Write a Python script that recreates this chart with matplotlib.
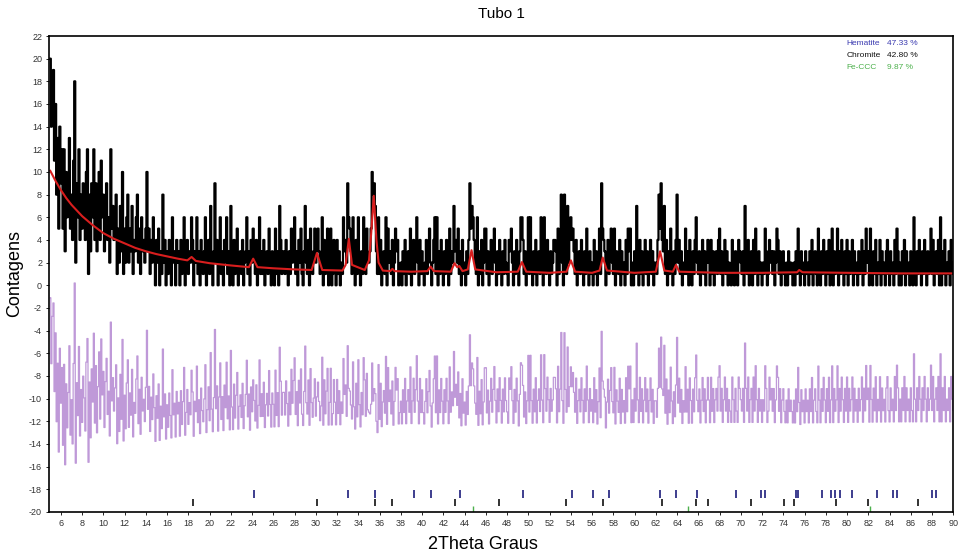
import matplotlib.pyplot as plt
import numpy as np


# Observed counts, one string per degree (5.0 .. 89.9, step 0.1), base-36 digits
START_2THETA = 5.0
STEP_2THETA = 0.1
OBS_ROWS = [
    "keijbg8d5e",  # 5
    "9c5c3a69d5",  # 6
    "84bi296c48",  # 7
    "5974ac1839",  # 8
    "6c4937a4b6",  # 9
    "8379462c57",  # 10
    "46815273a1",  # 11
    "5268253714",  # 12
    "3682516342",  # 13
    "5a35142630",  # 14
    "4250318240",  # 15
    "3142062304",  # 16
    "2304136024",  # 17
    "1326403261",  # 18
    "3042136024",  # 19
    "1720392403",  # 20
    "6130426130",  # 21
    "7204135023",  # 22
    "1402361304",  # 23
    "2531402613",  # 24
    "1402315203",  # 25
    "2051307413",  # 26
    "3142031524",  # 27
    "6130425103",  # 28
    "7214052135",  # 29
    "2453126041",  # 30
    "3502501420",  # 31
    "4130216342",  # 32
    "9653162041",  # 33
    "6203164152",  # 34
    "235a897316",  # 35
    "1402316052",  # 36
    "3140253401",  # 37
    "2031402315",  # 38
    "0241362041",  # 39
    "3102413520",  # 40
    "2461603142",  # 41
    "0314205132",  # 42
    "7342513041",  # 43
    "2031495764",  # 44
    "2160314025",  # 45
    "5130241352",  # 46
    "0314203142",  # 47
    "1043520314",  # 48
    "2036641302",  # 49
    "6162031402",  # 50
    "3162063142",  # 51
    "0312443051",  # 52
    "3820831724",  # 53
    "6453140231",  # 54
    "4203152031",  # 55
    "2041302519",  # 56
    "5430241352",  # 57
    "1503214031",  # 58
    "2041535020",  # 59
    "3172041302",  # 60
    "4130241302",  # 61
    "2148594371",  # 62
    "4031520314",  # 63
    "8241302151",  # 64
    "3042031462",  # 65
    "1302413024",  # 66
    "2041302314",  # 67
    "5130241302",  # 68
    "1042031043",  # 69
    "2130731402",  # 70
    "3041520312",  # 71
    "0215301423",  # 72
    "1302541302",  # 73
    "3102031210",  # 74
    "2031520312",  # 75
    "0312031402",  # 76
    "3105203142",  # 77
    "0314025031",  # 78
    "2503142031",  # 79
    "4031240312",  # 80
    "0312403152",  # 81
    "3052031402",  # 82
    "1403120341",  # 83
    "0312041530",  # 84
    "2031403120",  # 85
    "3106203142",  # 86
    "0314203125",  # 87
    "1402314060",  # 88
    "3140213042",  # 89
    "1",           # 90
]

# Calculated profile (2theta, counts)
CALC_X = [5.0, 5.5, 6.0, 6.5, 7.0, 7.5, 8.0, 9.0, 10.0, 11.0, 12.0, 13.0, 14.0,
          15.0, 16.0, 17.0, 17.9, 18.3, 18.7, 20.0, 22.0, 23.7, 24.1, 24.5,
          26.0, 28.0, 29.6, 30.1, 30.6, 32.5, 32.8, 33.1, 33.4, 34.6, 35.0,
          35.2, 35.45, 35.7, 35.9, 36.3, 37.0, 37.2, 37.4, 39.0, 40.5, 40.8,
          41.1, 42.7, 43.05, 43.3, 43.5, 43.8, 44.3, 44.65, 45.0, 47.0, 49.0,
          49.4, 49.8, 52.0, 53.6, 54.0, 54.4, 56.0, 56.7, 57.0, 57.4, 60.0,
          62.0, 62.4, 62.8, 63.6, 63.9, 64.2, 68.0, 72.0, 75.3, 75.5, 75.8,
          80.0, 85.0, 90.0]
CALC_Y = [10.1, 9.2, 8.4, 7.7, 7.1, 6.6, 6.1, 5.3, 4.6, 4.1, 3.7, 3.3, 3.0,
          2.75, 2.55, 2.35, 2.2, 2.5, 2.15, 1.95, 1.75, 1.6, 2.35, 1.6,
          1.5, 1.4, 1.35, 2.85, 1.35, 1.3, 1.8, 4.1, 1.8, 1.35, 2.2,
          4.5, 7.9, 4.0, 2.0, 1.3, 1.25, 1.45, 1.25, 1.2, 1.25, 1.65,
          1.25, 1.2, 1.95, 1.6, 1.7, 1.25, 1.4, 3.1, 1.4, 1.15, 1.2,
          2.05, 1.2, 1.1, 1.2, 2.2, 1.2, 1.1, 1.3, 2.45, 1.3, 1.1,
          1.2, 3.0, 1.3, 1.2, 1.8, 1.2, 1.1, 1.1, 1.15, 1.35, 1.15,
          1.1, 1.05, 1.05]

DIFF_OFFSET = -11

# Bragg reflection positions per phase
HEMATITE_POS = [24.2, 33.07, 35.56, 39.24, 40.8, 43.54, 49.5, 54.1, 56.1, 57.56,
                62.4, 63.9, 65.9, 69.5, 71.9, 72.3, 75.2, 75.4, 77.6, 78.5,
                78.9, 79.3, 80.45, 82.85, 84.35, 84.7, 88.0, 88.4]
CHROMITE_POS = [18.43, 30.1, 35.56, 37.15, 43.13, 47.28, 53.5, 57.06, 62.6,
                65.8, 66.9, 70.95, 74.07, 75.0, 79.0, 81.98, 86.7]
FE_POS = [44.8, 65.0, 82.2]

PHASES = ["Hematite", "Chromite", "Fe-CCC"]
FRACTIONS = ["47.33 %", "42.80 %", "9.87 %"]
PHASE_COLORS = ["#3b3bb0", "#111111", "#4cb04c"]


obs = np.array([int(c, 36) for c in "".join(OBS_ROWS)], dtype=float)
two_theta = START_2THETA + STEP_2THETA * np.arange(len(obs))
diff = obs - np.interp(two_theta, CALC_X, CALC_Y) + DIFF_OFFSET

plt.rcParams['font.family'] = ['Liberation Sans', 'DejaVu Sans']
plt.rcParams['axes.unicode_minus'] = False

fig = plt.figure(figsize=(9.61, 5.54), dpi=100)
ax = fig.add_axes([0.051, 0.076, 0.941, 0.859])

ax.step(two_theta, diff, where='mid', color='#b88ed4', linewidth=0.9, alpha=0.9)
ax.step(two_theta, obs, where='mid', color='black', linewidth=1.6)
ax.plot(CALC_X, CALC_Y, color='#d81e1e', linewidth=1.5)

ax.vlines(HEMATITE_POS, -18.8, -18.1, color='#2e2e86', linewidth=1.3)
ax.vlines(CHROMITE_POS, -19.5, -18.9, color='#222222', linewidth=1.3)
ax.vlines(FE_POS, -20, -19.5, color=PHASE_COLORS[2], linewidth=1.0)

for i, (name, frac, col) in enumerate(zip(PHASES, FRACTIONS, PHASE_COLORS)):
    y = 0.985 - i * 0.026
    ax.text(0.882, y, name, transform=ax.transAxes, fontsize=6, color=col, va='center')
    ax.text(0.927, y, frac, transform=ax.transAxes, fontsize=6, color=col, va='center')

ax.set_xlim(4.88, 90)
ax.set_ylim(-20, 22)
ax.set_xticks(np.arange(6, 91, 2))
ax.set_yticks(np.arange(-20, 23, 2))
ax.tick_params(labelsize=6.5, labelcolor='#333333', length=2, width=0.6, pad=3)
for s in ax.spines.values():
    s.set_linewidth(1.2)

ax.set_title('Tubo 1', fontsize=11, pad=13)
ax.set_xlabel('2Theta Graus', fontsize=13, labelpad=6, x=0.48)
ax.set_ylabel('Contagens', fontsize=13, labelpad=4)

plt.savefig('out.png', dpi=100)
